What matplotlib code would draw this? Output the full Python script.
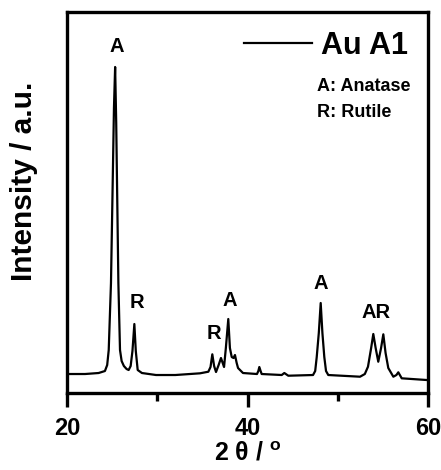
import numpy as np
import matplotlib
matplotlib.use("Agg")
import matplotlib.pyplot as plt
from matplotlib.ticker import MultipleLocator

plt.rcParams.update({"font.family": "Liberation Sans", "font.weight": "bold",
                     "mathtext.fontset": "custom", "mathtext.rm": "Liberation Sans",
                     "mathtext.bf": "Liberation Sans:bold"})

# XRD trace (2theta in degrees, intensity in a.u.)
two_theta = [20.0, 22.0, 23.5, 24.2, 24.45, 24.62, 24.87, 25.06, 25.2, 25.33, 25.45, 25.54,
             25.69, 25.87, 26.05, 26.3, 26.6, 26.83, 27.05, 27.25, 27.46, 27.62, 27.83, 28.3,
             29.86, 32.0, 34.74, 35.66, 35.9, 36.1, 36.3, 36.51, 36.8, 37.06, 37.25, 37.4,
             37.6, 37.87, 38.05, 38.25, 38.45, 38.61, 38.8, 38.95, 39.5, 41.05, 41.2, 41.31,
             41.45, 41.57, 43.79, 44.08, 44.52, 47.26, 47.5, 47.67, 47.9, 48.11, 48.3, 48.51,
             48.7, 48.95, 52.47, 53.0, 53.35, 53.7, 53.94, 54.2, 54.49, 54.8, 55.05, 55.3,
             55.6, 56.16, 56.5, 56.71, 57.09, 59.86, 60.0]
intensity = [19, 19, 20, 22, 28, 43, 110, 210, 285, 326, 270, 210,
             110, 43, 32, 27, 24, 23, 27, 42, 69, 42, 23, 20,
             18, 18, 19.7, 21.3, 26, 38.7, 27, 21, 28, 35, 30, 26,
             45, 74, 45, 36, 35, 38, 30, 25, 20, 19, 22, 26,
             22, 19, 18, 20, 17.3, 18, 22, 36, 60, 90, 60, 36,
             22, 18, 16.3, 19, 26.3, 45, 59, 45, 31.3, 45, 58.7, 40,
             25, 16.3, 18, 20.7, 14.7, 13, 13]

# phase labels
lab_x = [25.5, 27.72, 36.29, 38.06, 48.14, 54.24]
lab_y = [346, 91, 60, 93, 110, 81]
lab_txt = ["A", "R", "R", "A", "A", "AR"]

fig = plt.figure(figsize=(4.41, 4.70), dpi=100)
ax = fig.add_axes([0.152, 0.1638, 0.8185, 0.8107])
ax.plot(two_theta, intensity, color="black", lw=1.6, label="Au A1")
for x, y, t in zip(lab_x, lab_y, lab_txt):
    ax.text(x, y, t, ha="center", va="center", fontsize=14.5, fontweight="bold")

ax.set_xlim(20, 60); ax.set_ylim(0, 381)
ax.xaxis.set_major_locator(MultipleLocator(20))
ax.xaxis.set_minor_locator(MultipleLocator(10))
ax.tick_params(axis="x", which="major", direction="out", length=10, width=2.4, labelsize=17, pad=7)
ax.tick_params(axis="x", which="minor", direction="out", length=6, width=2.4)
ax.set_yticks([])
for s in ax.spines.values():
    s.set_linewidth(2.4)

ax.set_xlabel(r"2 $\mathrm{\theta}$ / $^{\mathrm{o}}$", fontsize=18, fontweight="bold", labelpad=1)
ax.set_ylabel("Intensity / a.u.", fontsize=21.5, fontweight="bold")
ax.yaxis.set_label_coords(-0.08, 0.555)

ax.legend(loc="upper right", bbox_to_anchor=(1.003, 1.006), frameon=False,
          handlelength=2.2, handletextpad=0.3, borderpad=0.2, prop={"weight": "bold", "size": 22})
ax.text(0.6925, 0.804, "A: Anatase", transform=ax.transAxes, ha="left", va="center", fontsize=13, fontweight="bold")
ax.text(0.6925, 0.7357, "R: Rutile", transform=ax.transAxes, ha="left", va="center", fontsize=13, fontweight="bold")

fig.savefig("out.png", dpi=100)
